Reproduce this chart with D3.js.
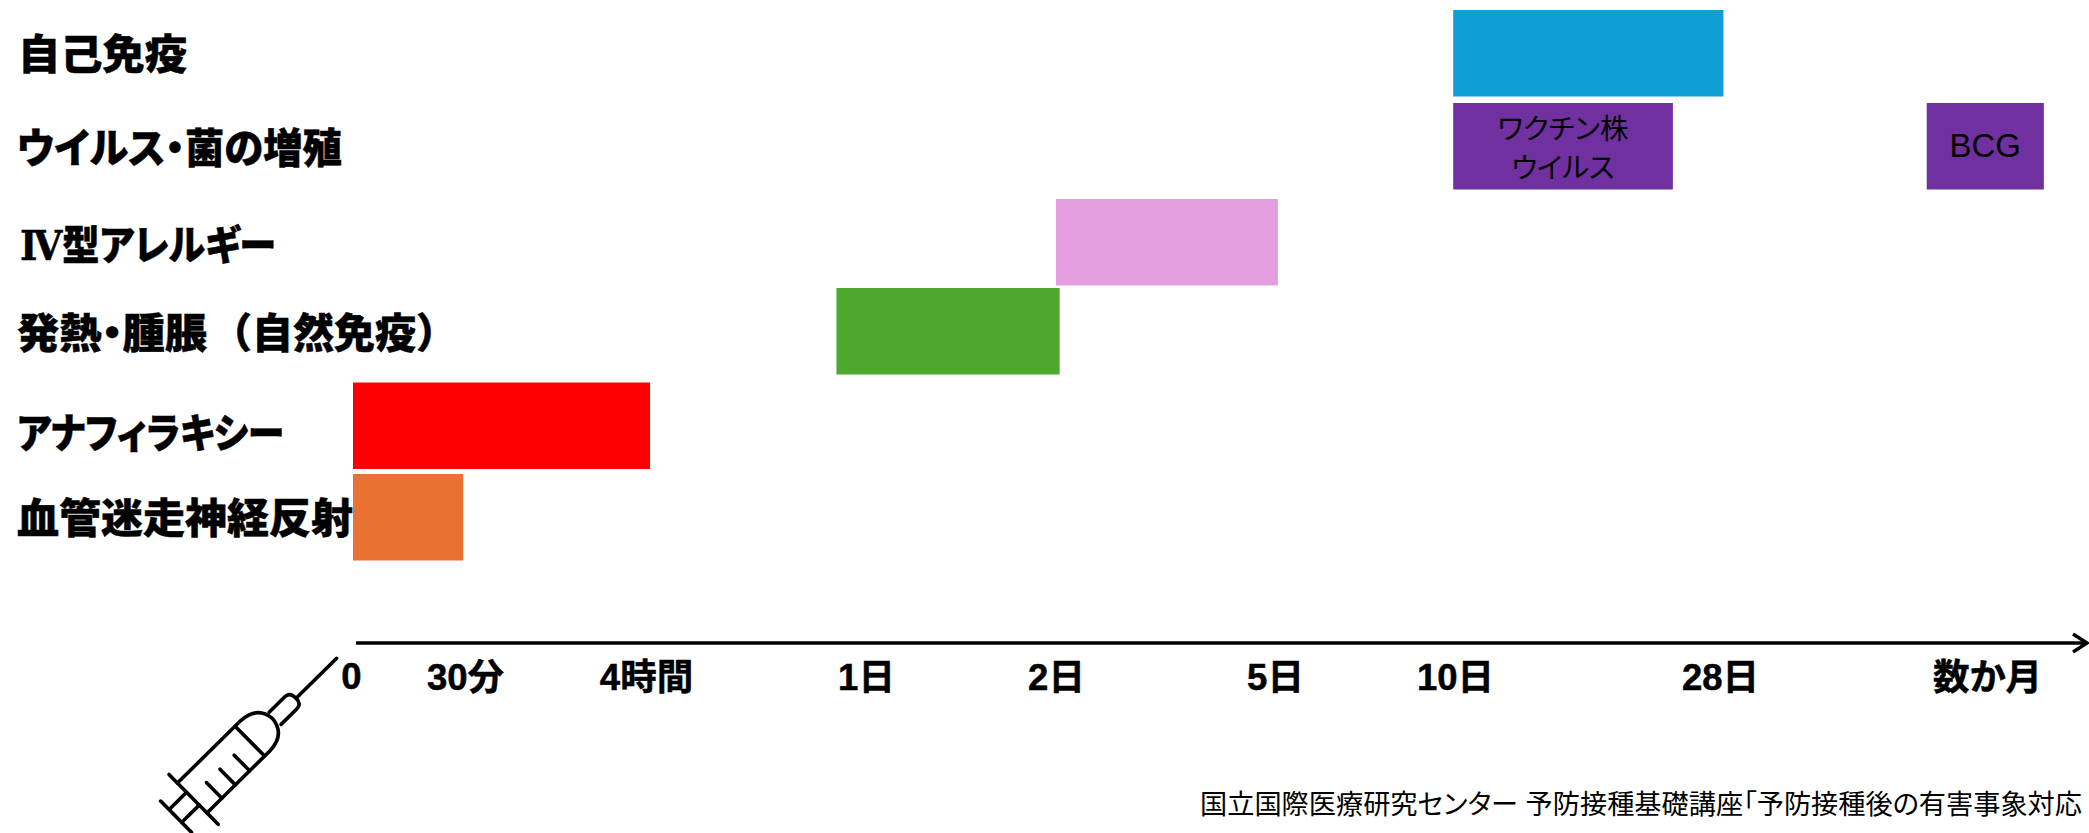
<!DOCTYPE html>
<html lang="ja">
<head>
<meta charset="utf-8">
<script src="https://cdnjs.cloudflare.com/ajax/libs/d3/7.8.5/d3.min.js"></script>
<style>
html,body{margin:0;padding:0;background:#fff;overflow:hidden}
svg{display:block}
text{font-family:"Liberation Sans","Noto Sans CJK JP",sans-serif;font-feature-settings:"palt";fill:#000}
.cat{font-family:"Noto Sans CJK JP",sans-serif;font-weight:900;font-size:41px;stroke:#000;stroke-width:.5px}
.cat .paren{font-feature-settings:normal}
.cat .roman{font-family:"DejaVu Serif",serif;font-weight:700}
.tick text{font-weight:700;font-size:36.5px;stroke:#000;stroke-width:.5px}
.foot{font-size:27.2px}
</style>
</head>
<body>
<svg id="c" width="2089" height="833"></svg>
<script>
// Data (time expressed in days)
const categories = ["自己免疫","ウイルス・菌の増殖","Ⅳ型アレルギー","発熱・腫脹（自然免疫）","アナフィラキシー","血管迷走神経反射"];
const tickDays = [0, 1/48, 1/6, 1, 2, 5, 10, 28, 90];
const tickLabels = ["0","30分","4時間","1日","2日","5日","10日","28日","数か月"];
const barCategory = ["自己免疫","ウイルス・菌の増殖","ウイルス・菌の増殖","Ⅳ型アレルギー","発熱・腫脹（自然免疫）","アナフィラキシー","血管迷走神経反射"];
const barStart = [9.95, 9.95, 76, 2, 0.888, 0, 0];
const barEnd = [28.8, 24.8, 103.2, 5.08, 2.05, 0.182, 0.0205];
const barColor = ["#0F9ED5","#7030A0","#7030A0","#E49EDD","#4EA72E","#FF0000","#E97132"];
const barText = [[],["ワクチン株","ウイルス"],["BCG"],[],[],[],[]];
const footnote = "国立国際医療研究センター 予防接種基礎講座「予防接種後の有害事象対応";

const svg = d3.select("#c");
const x = d3.scaleLinear().domain(tickDays).range([353,465,646,866,1056,1275,1455,1720,1987]);
const yTop = d3.scaleOrdinal().domain(categories).range([10,103,199,288,382.5,474]);
const yLabel = d3.scaleOrdinal().domain(categories).range([55,149,246,334,434,519]);
const labelLeft = d3.scaleOrdinal().domain(categories).range([18,17,20,17,17,17]);
const labelWidth = d3.scaleOrdinal().domain(categories).range([169,325,256,null,267,336]);
const barH = 86.5;

// Bars
const bars = barStart.map((s,i)=>({s,e:barEnd[i],cat:barCategory[i],color:barColor[i],text:barText[i]}));
svg.append("g").selectAll("rect").data(bars).join("rect")
  .attr("x",d=>x(d.s)).attr("width",d=>x(d.e)-x(d.s))
  .attr("y",d=>yTop(d.cat)).attr("height",barH).attr("fill",d=>d.color);

// Text inside bars
bars.filter(d=>d.text.length).forEach(d=>{
  const cx=(x(d.s)+x(d.e))/2, cy=yTop(d.cat)+barH/2, lh=39;
  d.text.forEach((t,j)=>{
    svg.append("text").attr("text-anchor","middle")
      .attr("font-size",d.text.length===1?33:28.5)
      .attr("x",cx).attr("y",cy+(j-(d.text.length-1)/2)*lh+(d.text.length===1?11:12.5)).text(t);
  });
});

// Category labels
svg.append("g").selectAll("text").data(categories).join("text")
  .attr("class","cat").attr("x",d=>labelLeft(d)).attr("y",d=>yLabel(d)+14)
  .each(function(d){
    const t=d3.select(this), w=labelWidth(d);
    if(w){t.attr("textLength",w).attr("lengthAdjust","spacingAndGlyphs");}
    const p=d.indexOf("（");
    if(p>=0){
      t.append("tspan").attr("textLength",190).attr("lengthAdjust","spacingAndGlyphs").text(d.slice(0,p));
      t.append("tspan").attr("class","paren").attr("x",211).text(d.slice(p));
    } else if(d[0]==="Ⅳ"){
      t.append("tspan").attr("class","roman").text(d[0]);
      t.append("tspan").text(d.slice(1));
    } else t.text(d);
  });

// Time axis
const axis = d3.axisBottom(x).tickValues(tickDays)
  .tickFormat((d,i)=>tickLabels[i]).tickSize(0);
const ax = svg.append("g").attr("transform","translate(0,643)").call(axis);
ax.select(".domain").remove();
ax.selectAll(".tick text").attr("y",0).attr("dy",0)
  .attr("transform","translate(0,47)").attr("font-family",null).attr("font-size",null);
ax.selectAll(".tick").filter((d,i)=>i===0).select("text").attr("transform","translate(-2,46)");

svg.append("line").attr("x1",356).attr("x2",2085).attr("y1",643).attr("y2",643)
  .attr("stroke","#000").attr("stroke-width",3.5);
svg.append("path").attr("d","M2073,634L2087,643L2073,652").attr("fill","none")
  .attr("stroke","#000").attr("stroke-width",3.5);

// Syringe
const s = svg.append("g").attr("transform","translate(336.7,658.3) rotate(135.4)")
  .attr("fill","none").attr("stroke","#000").attr("stroke-width",3.6).attr("stroke-linecap","round");
const sLine=(u1,v1,u2,v2)=>s.append("line").attr("x1",u1).attr("y1",v1).attr("x2",u2).attr("y2",v2);
sLine(0,0,57,0);
s.append("path").attr("d","M86,-8L64,-8Q57,-8 57,0Q57,9 64,9L86,9");
s.append("path").attr("d","M201,-19L112,-19Q90,-18 88,2Q90,22 112,23L201,23");
sLine(120,-19,120,23);
sLine(141,-19,141,3);sLine(161,-19,161,3);sLine(180,-19,180,3);
sLine(201,-35,201,35);
sLine(201,-8,225,-8);sLine(201,10,225,10);
sLine(225.6,-22,225.6,22);

// Source
svg.append("text").attr("class","foot").attr("x",1200).attr("y",814).text(footnote);
</script>
</body>
</html>
